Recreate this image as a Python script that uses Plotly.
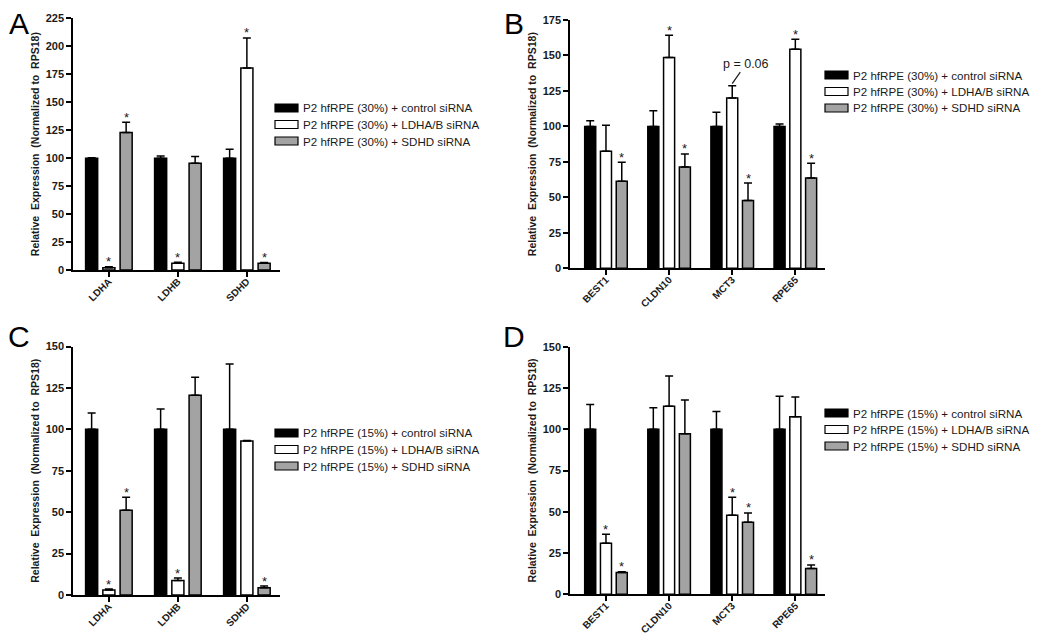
import plotly.graph_objects as go

# the page body adds an 8px margin around the figure
PAGE_W, PAGE_H = 1050, 643
OFF = 8
W, H = PAGE_W - 2 * OFF, PAGE_H - 2 * OFF

# ---------------- data ----------------
genes_metab = ["LDHA", "LDHB", "SDHD"]
genes_rpe = ["BEST1", "CLDN10", "MCT3", "RPE65"]

series_names_30 = ["P2 hfRPE (30%) + control siRNA",
                   "P2 hfRPE (30%) + LDHA/B siRNA",
                   "P2 hfRPE (30%) + SDHD siRNA"]
series_names_15 = ["P2 hfRPE (15%) + control siRNA",
                   "P2 hfRPE (15%) + LDHA/B siRNA",
                   "P2 hfRPE (15%) + SDHD siRNA"]

# Panel A (30%, metabolic genes)
A_ctrl = [100, 100, 100]
A_ctrl_err = [0.4, 2, 8]
A_ldh = [2, 6, 180.5]
A_ldh_err = [1, 1, 27]
A_sdhd = [123, 95.5, 6]
A_sdhd_err = [9, 6, 0.6]
A_sig = [[False, False, False], [True, True, True], [True, False, True]]

# Panel B (30%, RPE genes)
B_ctrl = [100, 100, 100, 100]
B_ctrl_err = [4, 11, 10, 1.7]
B_ldh = [82.5, 148.5, 120, 154.3]
B_ldh_err = [18.3, 15.7, 8.7, 7.1]
B_sdhd = [61.3, 71.4, 47.7, 63.7]
B_sdhd_err = [13.4, 9.2, 12.4, 10.3]
B_sig = [[False] * 4, [False, True, False, True], [True, True, True, True]]
B_pnote = ("MCT3", "p = 0.06")

# Panel C (15%, metabolic genes)
C_ctrl = [100, 100, 100]
C_ctrl_err = [9.9, 12.3, 39.5]
C_ldh = [3, 8.7, 93]
C_ldh_err = [0.6, 1.5, 0.2]
C_sdhd = [51.1, 120.6, 4.4]
C_sdhd_err = [7.9, 10.9, 1]
C_sig = [[False] * 3, [True, True, False], [True, False, True]]

# Panel D (15%, RPE genes)
D_ctrl = [100, 100, 100, 100]
D_ctrl_err = [15, 13, 10.8, 20]
D_ldh = [31, 113.9, 47.9, 107.6]
D_ldh_err = [5.4, 18.3, 10.9, 11.9]
D_sdhd = [13.2, 97.3, 43.6, 15.7]
D_sdhd_err = [0.4, 20.4, 5.7, 2.1]
D_sig = [[False] * 4, [True, False, True, False], [True, False, True, True]]

y_max = {"A": 225, "B": 175, "C": 150, "D": 150}
y_dtick = 25

# ---------------- styling ----------------
FONT = "Arial, 'Liberation Sans', sans-serif"
colors = ["#000000", "#ffffff", "#a3a3a3"]
BARGAP = 0.25
NSER = 3

def px_x(x):
    return (x - OFF) / W

def px_y(y):
    return 1 - (y - OFF) / H

panels = [
    dict(key="A", cats=genes_metab, vals=[A_ctrl, A_ldh, A_sdhd],
         errs=[A_ctrl_err, A_ldh_err, A_sdhd_err], sig=A_sig, names=series_names_30,
         xd=(73, 280), yd=(270, 18.3), xr=(-0.52, 2.48), letter=(19, 24),
         leg=(275, 108)),
    dict(key="B", cats=genes_rpe, vals=[B_ctrl, B_ldh, B_sdhd],
         errs=[B_ctrl_err, B_ldh_err, B_sdhd_err], sig=B_sig, names=series_names_30,
         xd=(570, 825), yd=(268.3, 20), xr=(-0.57, 3.47), letter=(514, 24),
         leg=(825, 75)),
    dict(key="C", cats=genes_metab, vals=[C_ctrl, C_ldh, C_sdhd],
         errs=[C_ctrl_err, C_ldh_err, C_sdhd_err], sig=C_sig, names=series_names_15,
         xd=(73, 280), yd=(595, 346.5), xr=(-0.52, 2.48), letter=(19, 336),
         leg=(275, 433)),
    dict(key="D", cats=genes_rpe, vals=[D_ctrl, D_ldh, D_sdhd],
         errs=[D_ctrl_err, D_ldh_err, D_sdhd_err], sig=D_sig, names=series_names_15,
         xd=(570, 825), yd=(594.3, 346.7), xr=(-0.57, 3.47), letter=(514, 336),
         leg=(825, 413)),
]

fig = go.Figure()
annotations = []
shapes = []

for i, p in enumerate(panels):
    n = i + 1
    xa = "x" if n == 1 else f"x{n}"
    ya = "y" if n == 1 else f"y{n}"
    xkey = "xaxis" if n == 1 else f"xaxis{n}"
    ykey = "yaxis" if n == 1 else f"yaxis{n}"

    for s in range(NSER):
        fig.add_trace(go.Bar(
            x=p["cats"], y=p["vals"][s], name=p["names"][s],
            xaxis=xa, yaxis=ya, showlegend=False,
            marker=dict(color=colors[s], line=dict(color="#000000", width=1.5)),
            error_y=dict(type="data", symmetric=False, array=p["errs"][s],
                         arrayminus=[0] * len(p["cats"]), color="#000000",
                         thickness=1.5, width=4),
        ))

    fig.layout[xkey] = dict(
        domain=[px_x(p["xd"][0]), px_x(p["xd"][1])], anchor=ya,
        type="category", range=list(p["xr"]), automargin=False,
        showline=True, linecolor="#000000", linewidth=1.5,
        ticks="outside", ticklen=5, tickwidth=1.5, tickcolor="#000000",
        tickangle=-45, showgrid=False, zeroline=False, ticklabelstandoff=-5,
        tickfont=dict(family=FONT, size=10, color="#1a1a1a", weight="bold"),
    )
    fig.layout[ykey] = dict(
        domain=[px_y(p["yd"][0]), px_y(p["yd"][1])], anchor=xa,
        range=[0, y_max[p["key"]]], dtick=y_dtick, tick0=0, automargin=False,
        showline=True, linecolor="#000000", linewidth=1.5,
        ticks="outside", ticklen=5, tickwidth=1.5, tickcolor="#000000",
        showgrid=False, zeroline=False,
        tickfont=dict(family=FONT, size=11, color="#1a1a1a", weight="bold"),
        title=dict(text="Relative  Expression  (Normalized to  RPS18)",
                   font=dict(family=FONT, size=10.5, color="#1a1a1a", weight="bold"),
                   standoff=4),
    )

    # significance markers
    slot = (1 - BARGAP) / NSER
    for s in range(NSER):
        off = (s - (NSER - 1) / 2) * slot
        for j, c in enumerate(p["cats"]):
            if p["sig"][s][j]:
                annotations.append(dict(
                    x=j + off, y=p["vals"][s][j] + p["errs"][s][j],
                    xref=xa, yref=ya, text="*", showarrow=False,
                    yanchor="middle", yshift=5,
                    font=dict(family=FONT, size=13, color="#1a1a1a"),
                ))
    if p["key"] == "B":
        j = p["cats"].index(B_pnote[0])
        annotations.append(dict(
            x=j, y=p["vals"][1][j] + p["errs"][1][j] + 1.5, xref=xa, yref=ya,
            text=B_pnote[1], showarrow=True, arrowhead=0, arrowwidth=1.2,
            arrowcolor="#1a1a1a", ax=14, ay=-20, standoff=0,
            font=dict(family=FONT, size=12.5, color="#1a1a1a"),
        ))

    # panel letter
    annotations.append(dict(
        x=px_x(p["letter"][0]), y=px_y(p["letter"][1]), xref="paper", yref="paper",
        text=p["key"], showarrow=False, xanchor="center", yanchor="middle",
        font=dict(family=FONT, size=30, color="#000000"),
    ))

    # custom legend
    lx, ly = p["leg"]
    for s in range(NSER):
        cy = ly + s * 16.5
        shapes.append(dict(
            type="rect", xref="paper", yref="paper",
            x0=px_x(lx), x1=px_x(lx + 23), y0=px_y(cy - 4), y1=px_y(cy + 4),
            fillcolor=colors[s], line=dict(color="#000000", width=1.2),
        ))
        annotations.append(dict(
            x=px_x(lx + 26), y=px_y(cy), xref="paper", yref="paper",
            text=p["names"][s], showarrow=False, xanchor="left", yanchor="middle",
            font=dict(family=FONT, size=11.6, color="#1a1a1a"),
        ))

fig.update_layout(
    width=W, height=H, margin=dict(l=0, r=0, t=0, b=0, autoexpand=False),
    paper_bgcolor="#ffffff", plot_bgcolor="#ffffff",
    barmode="group", bargap=BARGAP, bargroupgap=0.3,
    annotations=annotations, shapes=shapes,
    font=dict(family=FONT),
)

fig.write_html("out.html")
